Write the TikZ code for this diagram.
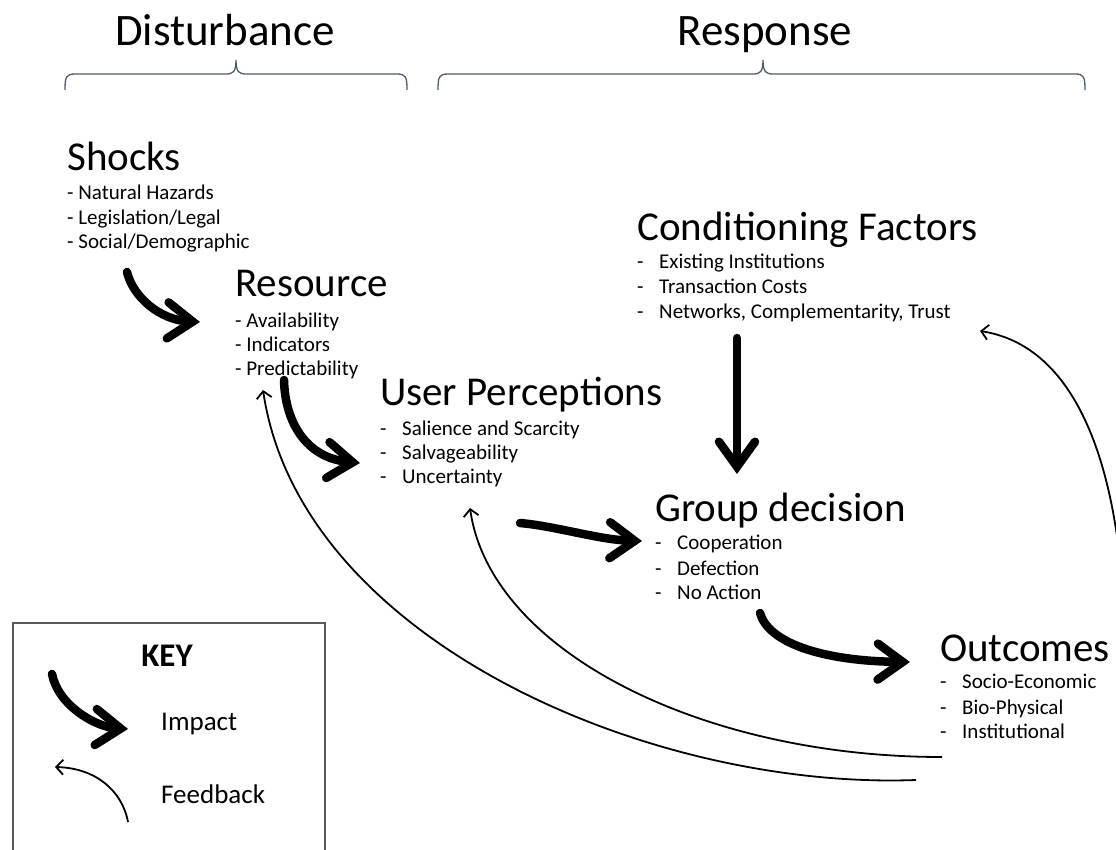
\documentclass[tikz,border=0pt]{standalone}
\usepackage{fontspec}
\setmainfont{Carlito}
\usetikzlibrary{arrows.meta}
\definecolor{bracegray}{RGB}{80,90,105}
\definecolor{framegray}{RGB}{90,90,90}
\newcommand{\dashitem}[1]{\makebox[22pt][l]{-}#1}
\begin{document}
\begin{tikzpicture}[x=1pt,y=-1pt,
  head/.style={anchor=base,inner sep=0pt,font=\fontsize{45}{54}\selectfont},
  title/.style={anchor=base west,inner sep=0pt,font=\fontsize{41}{49}\selectfont},
  item/.style={anchor=base west,inner sep=0pt,font=\fontsize{21}{25}\selectfont},
  keytext/.style={anchor=base west,inner sep=0pt,font=\fontsize{27}{32}\selectfont},
  impact/.style={line width=8.5pt,line cap=round,
    -{Straight Barb[length=25pt,width=36pt,line cap=round]}},
  feedback/.style={line width=1.8pt,
    -{Straight Barb[length=7pt,width=15pt]}},
  brace/.style={draw=bracegray,line width=1.3pt}]
\useasboundingbox (0,0) rectangle (1116,850);

% column headings and their braces
\node[head] (dist) at (225,46) {Disturbance};
\node[head] (resp) at (765,46) {Response};
\draw[brace] (65,90) .. controls (65,77) and (66,74) .. (75,74) -- (226,74)
  .. controls (233,74) and (236,72) .. (236,60)
  .. controls (236,72) and (239,74) .. (246,74) -- (397,74)
  .. controls (406,74) and (407,77) .. (407,90);
\draw[brace] (438,90) .. controls (438,77) and (439,74) .. (448,74) -- (753,74)
  .. controls (760,74) and (763,72) .. (763,60)
  .. controls (763,72) and (766,74) .. (773,74) -- (1075,74)
  .. controls (1084,74) and (1085,77) .. (1085,90);

% Shocks
\node[title] (shocks) at (67,171) {Shocks};
\node[item] (shocks1) at (67,200) {- Natural Hazards};
\node[item] (shocks2) at (67,225) {- Legislation/Legal};
\node[item] (shocks3) at (67,249) {- Social/Demographic};

% Resource
\node[title] (resource) at (235,297) {Resource};
\node[item] (resource1) at (235,327) {- Availability};
\node[item] (resource2) at (235,351) {- Indicators};
\node[item] (resource3) at (235,375) {- Predictability};

% User perceptions
\node[title] (user) at (380,405) {User Perceptions};
\node[item] (user1) at (380,435) {\dashitem{Salience and Scarcity}};
\node[item] (user2) at (380,459) {\dashitem{Salvageability}};
\node[item] (user3) at (380,483) {\dashitem{Uncertainty}};

% Conditioning factors
\node[title] (cond) at (637,241) {Conditioning Factors};
\node[item] (cond1) at (637,269) {\dashitem{Existing Institutions}};
\node[item] (cond2) at (637,294) {\dashitem{Transaction Costs}};
\node[item] (cond3) at (637,318) {\dashitem{Networks, Complementarity, Trust}};

% Group decision
\node[title] (group) at (655,521) {Group decision};
\node[item] (group1) at (655,549) {\dashitem{Cooperation}};
\node[item] (group2) at (655,575) {\dashitem{Defection}};
\node[item] (group3) at (655,599) {\dashitem{No Action}};

% Outcomes
\node[title] (out) at (940,661) {Outcomes};
\node[item] (out1) at (940,688) {\dashitem{Socio-Economic}};
\node[item] (out2) at (940,714) {\dashitem{Bio-Physical}};
\node[item] (out3) at (940,738) {\dashitem{Institutional}};

% end points of the arrows
\coordinate (shockA) at (127,272);  \coordinate (shockB) at (200,322);
\coordinate (resA)   at (284,380);  \coordinate (resB)   at (360,463);
\coordinate (userA)  at (520,523);  \coordinate (userB)  at (642,541);
\coordinate (condA)  at (737,338);  \coordinate (condB)  at (737,474);
\coordinate (grpA)   at (760,613);  \coordinate (grpB)   at (910,662);
\coordinate (fbC0)   at (1124,610); \coordinate (fbC1)   at (980,331);
\coordinate (fbU0)   at (942,757);  \coordinate (fbU1)   at (470,508);
\coordinate (fbR0)   at (916,780);  \coordinate (fbR1)   at (263,390);

% impact arrows
\draw[impact] (shockA) .. controls (133,297) and (160,320) .. (shockB);
\draw[impact] (resA) .. controls (285,422) and (306,458) .. (resB);
\draw[impact] (userA) .. controls (555,526) and (600,540) .. (userB);
\draw[impact] (condA) -- (condB);
\draw[impact] (grpA) .. controls (768,642) and (820,661) .. (grpB);

% feedback arrows
\draw[feedback] (fbC0) .. controls (1116,450) and (1070,345) .. (fbC1);
\draw[feedback] (fbU0) .. controls (700,757) and (490,650) .. (fbU1);
\draw[feedback] (fbR0) .. controls (650,790) and (300,640) .. (fbR1);

% key
\draw[draw=framegray,line width=1.5pt] (13,623) rectangle (325,870);
\node[anchor=base,inner sep=0pt,font=\fontsize{33}{40}\selectfont\bfseries] (keytitle) at (167,666) {KEY};
\coordinate (keyImpA) at (52,674);  \coordinate (keyImpB) at (128,729);
\coordinate (keyFbA)  at (128,822); \coordinate (keyFbB)  at (55,767);
\draw[impact] (keyImpA) .. controls (58,705) and (95,727) .. (keyImpB);
\draw[feedback] (keyFbA) .. controls (122,790) and (95,768) .. (keyFbB);
\node[keytext] (keyimpact) at (161,730) {Impact};
\node[keytext] (keyfeedback) at (161,803) {Feedback};
\end{tikzpicture}
\end{document}
